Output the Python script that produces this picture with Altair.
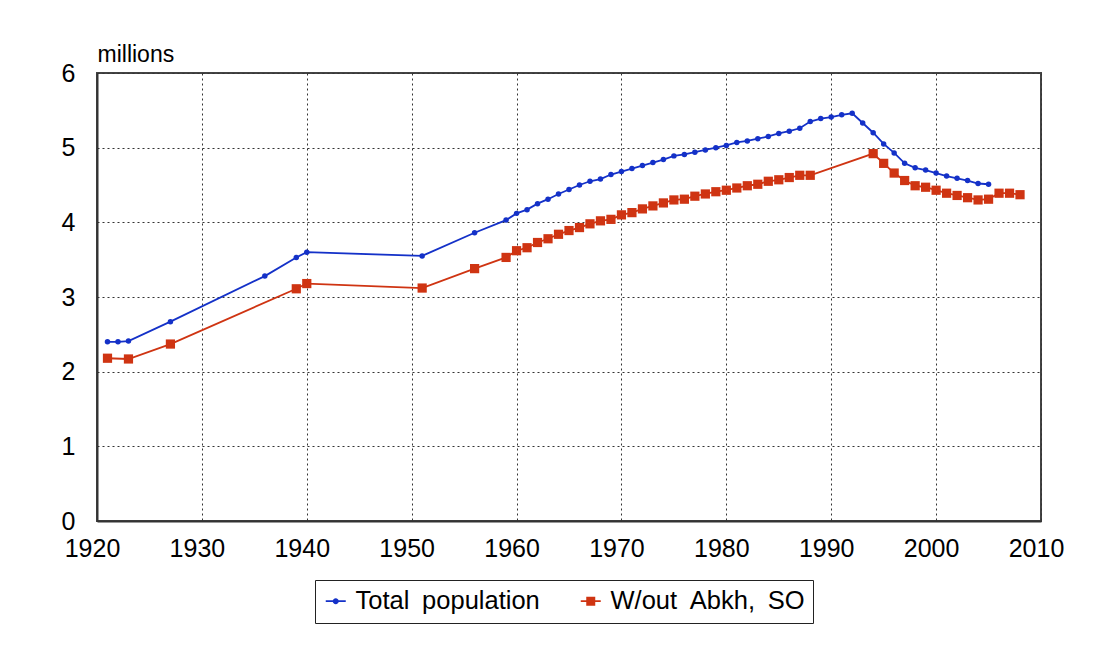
import altair as alt
import pandas as pd

# ---- data ----
series_names = ["Total population", "W/out Abkh, SO"]

total_years = [1921, 1922, 1923, 1927, 1936, 1939, 1940, 1951, 1956, 1959,
               1960, 1961, 1962, 1963, 1964, 1965, 1966, 1967, 1968, 1969,
               1970, 1971, 1972, 1973, 1974, 1975, 1976, 1977, 1978, 1979,
               1980, 1981, 1982, 1983, 1984, 1985, 1986, 1987, 1988, 1989,
               1990, 1991, 1992, 1993, 1994, 1995, 1996, 1997, 1998, 1999,
               2000, 2001, 2002, 2003, 2004, 2005]
total_values = [2.40, 2.40, 2.41, 2.67, 3.28, 3.53, 3.60, 3.55, 3.86, 4.03,
                4.12, 4.17, 4.25, 4.31, 4.38, 4.44, 4.50, 4.55, 4.58, 4.64,
                4.68, 4.72, 4.76, 4.80, 4.84, 4.89, 4.91, 4.94, 4.97, 5.00,
                5.03, 5.07, 5.09, 5.12, 5.15, 5.19, 5.22, 5.26, 5.35, 5.39,
                5.41, 5.44, 5.46, 5.33, 5.20, 5.05, 4.93, 4.79, 4.73, 4.70,
                4.66, 4.62, 4.59, 4.56, 4.52, 4.51]

wout_years = [1921, 1923, 1927, 1939, 1940, 1951, 1956, 1959,
              1960, 1961, 1962, 1963, 1964, 1965, 1966, 1967, 1968, 1969,
              1970, 1971, 1972, 1973, 1974, 1975, 1976, 1977, 1978, 1979,
              1980, 1981, 1982, 1983, 1984, 1985, 1986, 1987, 1988,
              1994, 1995, 1996, 1997, 1998, 1999, 2000, 2001, 2002, 2003,
              2004, 2005, 2006, 2007, 2008]
wout_values = [2.18, 2.17, 2.37, 3.11, 3.18, 3.12, 3.38, 3.53,
               3.62, 3.66, 3.73, 3.78, 3.84, 3.89, 3.93, 3.98, 4.02, 4.04,
               4.10, 4.13, 4.18, 4.22, 4.26, 4.30, 4.31, 4.35, 4.38, 4.41,
               4.43, 4.46, 4.49, 4.51, 4.55, 4.57, 4.60, 4.63, 4.63,
               4.92, 4.79, 4.66, 4.56, 4.49, 4.47, 4.43, 4.39, 4.36, 4.33,
               4.30, 4.31, 4.39, 4.39, 4.37]

x_ticks = [1920, 1930, 1940, 1950, 1960, 1970, 1980, 1990, 2000, 2010]
y_ticks = [0, 1, 2, 3, 4, 5, 6]

BLUE = "#1431c8"
RED = "#cf3412"
FONT = "Liberation Sans"

df = pd.concat([
    pd.DataFrame({"year": total_years, "value": total_values, "series": series_names[0]}),
    pd.DataFrame({"year": wout_years, "value": wout_values, "series": series_names[1]}),
], ignore_index=True)

# legend symbols: short line with a marker in the middle
PATH_TOTAL = ("M-1,-0.08L1,-0.08L1,0.08L-1,0.08Z"
              "M-0.3,0A0.3,0.3,0,1,1,0.3,0A0.3,0.3,0,1,1,-0.3,0Z")
PATH_WOUT = ("M-1,-0.08L1,-0.08L1,0.08L-1,0.08Z"
             "M-0.45,-0.45L0.45,-0.45L0.45,0.45L-0.45,0.45Z")
symbol_expr = "datum.value === '%s' ? '%s' : '%s'" % (series_names[0], PATH_TOTAL, PATH_WOUT)
# the reference legend uses wide word spacing
label_expr = "replace(datum.label, regexp(' ', 'g'), '\u2002')"

is_total = alt.datum.series == series_names[0]

x_enc = alt.X("year:Q",
              scale=alt.Scale(domain=[1920, 2010], nice=False, zero=False),
              axis=alt.Axis(values=x_ticks, format="d", title=None, grid=True,
                            tickSize=0, labelPadding=15, labelFontSize=25,
                            labelOffset=-5, labelFlush=False, labelOverlap=False))
y_enc = alt.Y("value:Q",
              scale=alt.Scale(domain=[0, 6], nice=False, zero=True),
              axis=alt.Axis(values=y_ticks, title="millions", titleAngle=0,
                            titleX=0, titleY=-12, titleAlign="left",
                            titleBaseline="alphabetic", titleFontSize=23,
                            titleFontWeight="normal", grid=True, tickSize=0,
                            labelPadding=22, labelFontSize=25, labelFlush=False))

lines = alt.Chart(df).mark_line(strokeWidth=1.8).encode(
    x=x_enc, y=y_enc,
    stroke=alt.condition(is_total, alt.value(BLUE), alt.value(RED)),
    detail="series:N",
)

points = alt.Chart(df).mark_point(filled=True, opacity=1, strokeWidth=0).encode(
    x=x_enc, y=y_enc,
    color=alt.Color("series:N", scale=alt.Scale(domain=series_names, range=[BLUE, RED]),
                    legend=alt.Legend(
                        title=None, orient="none", legendX=218, legendY=507,
                        direction="horizontal", labelFontSize=25.5, labelLimit=500,
                        labelExpr=label_expr,
                        labelFont=FONT, labelColor="black", symbolSize=400,
                        symbolStrokeWidth=0, strokeColor="#222", padding=8,
                        columnPadding=38, labelOffset=7, fillColor="white",
                        symbolType=alt.ExprRef(expr=symbol_expr))),
    shape=alt.condition(is_total, alt.value("circle"), alt.value("square")),
    size=alt.condition(is_total, alt.value(30), alt.value(85)),
)

chart = alt.layer(lines, points).properties(
    width=944, height=448,
    padding={"left": 89, "top": 65, "right": 69, "bottom": 120},
    autosize=alt.AutoSizeParams(type="none"),
    background="white",
).configure(font=FONT).configure_view(
    stroke="#444", strokeWidth=2
).configure_axis(
    gridDash=[2, 3], gridColor="#333", gridWidth=1, gridOpacity=1,
    domainColor="#333", domainWidth=2, labelColor="black", titleColor="black",
    labelFont=FONT, titleFont=FONT,
)

chart.save("out.html", embed_options={"renderer": "svg", "actions": False})
